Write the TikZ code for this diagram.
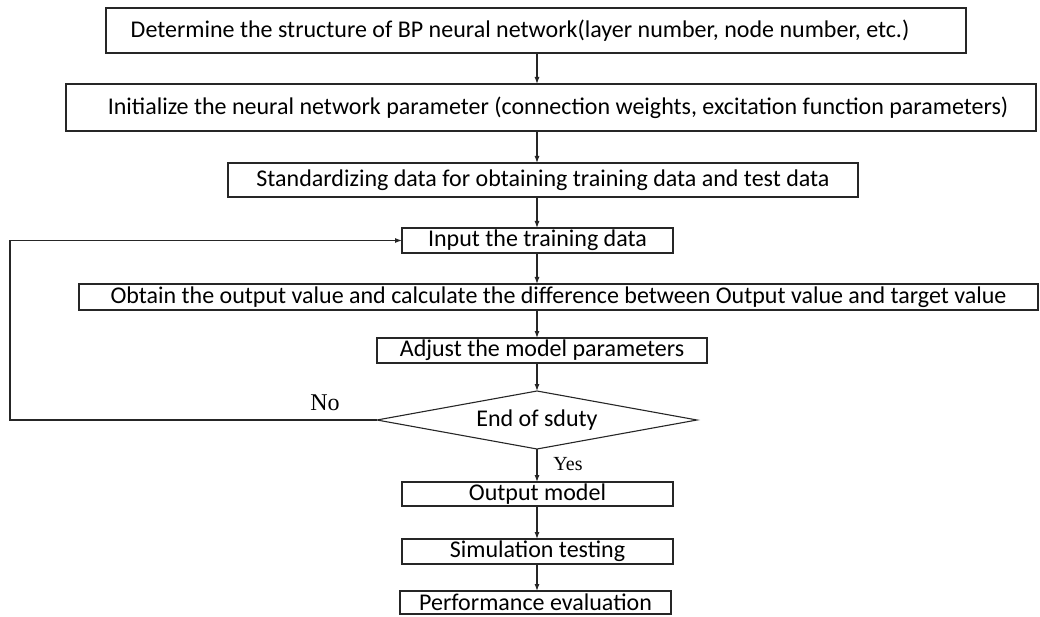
\documentclass[tikz,border=0pt]{standalone}
\usepackage{fontspec}
\setmainfont{Carlito}
\newfontfamily\labelfont{Liberation Serif}
\usetikzlibrary{shapes.geometric,arrows.meta}
\begin{document}
\begin{tikzpicture}[x=1pt,y=-1pt,
  stepbox/.style={draw=black!85, line width=1.1pt, inner sep=0pt, outer sep=0pt,
    font=\fontsize{24}{27}\selectfont},
  decision/.style={diamond, draw=black!85, line width=1.1pt, aspect=5.5,
    minimum width=320pt, minimum height=58pt, inner sep=0pt, outer sep=0pt,
    font=\fontsize{24}{27}\selectfont},
  flow/.style={draw=black!85, line width=1.1pt, -{Latex[length=7pt,width=5pt]}},
  tag/.style={font=\labelfont\fontsize{20}{22}\selectfont, inner sep=0pt}]
\useasboundingbox (0,0) rectangle (1040,617);

% process steps
\node[stepbox, minimum width=860pt, minimum height=45pt] (b1) at (536,30.5)
  {\hspace*{-32pt}Determine the structure of BP neural network(layer number, node number, etc.)};
\node[stepbox, minimum width=970pt, minimum height=47pt] (b2) at (551,107.5)
  {\hspace*{14pt}Initialize the neural network parameter (connection weights, excitation function parameters)};
\node[stepbox, minimum width=630pt, minimum height=34pt] (b3) at (543,180)
  {Standardizing data for obtaining training data and test data};
\node[stepbox, minimum width=271pt, minimum height=25pt] (b4) at (537.5,240.5)
  {Input the training data};
\node[stepbox, minimum width=959pt, minimum height=26pt] (b5) at (558.5,297)
  {Obtain the output value and calculate the difference between Output value and target value};
\node[stepbox, minimum width=330pt, minimum height=25pt] (b6) at (542,350.5)
  {Adjust the model parameters};
\node[decision] (d) at (537,420) {End of sduty};
\node[stepbox, minimum width=271pt, minimum height=24pt] (b7) at (537.5,494)
  {Output model};
\node[stepbox, minimum width=271pt, minimum height=25pt] (b8) at (537.5,551.5)
  {Simulation testing};
\node[stepbox, minimum width=271pt, minimum height=23pt] (b9) at (535.5,602.5)
  {Performance evaluation};

% vertical spine of the flow and the return path
\coordinate (spine) at (537,0);
\coordinate (back) at (10,0);

\draw[flow] (spine |- b1.south) -- (spine |- b2.north);
\draw[flow] (spine |- b2.south) -- (spine |- b3.north);
\draw[flow] (spine |- b3.south) -- (spine |- b4.north);
\draw[flow] (spine |- b4.south) -- (spine |- b5.north);
\draw[flow] (spine |- b5.south) -- (spine |- b6.north);
\draw[flow] (spine |- b6.south) -- (d.north);
\draw[flow] (d.south) -- (spine |- b7.north);
\draw[flow] (spine |- b7.south) -- (spine |- b8.north);
\draw[flow] (spine |- b8.south) -- (spine |- b9.north);

\draw[flow] (d.west) -- (back |- d.west) -- (back |- b4.west) -- (b4.west);

% branch labels
\node[tag, font=\labelfont\fontsize{24}{26}\selectfont] (no) at (325,403) {No};
\node[tag] (yes) at (568,464) {Yes};
\end{tikzpicture}
\end{document}
